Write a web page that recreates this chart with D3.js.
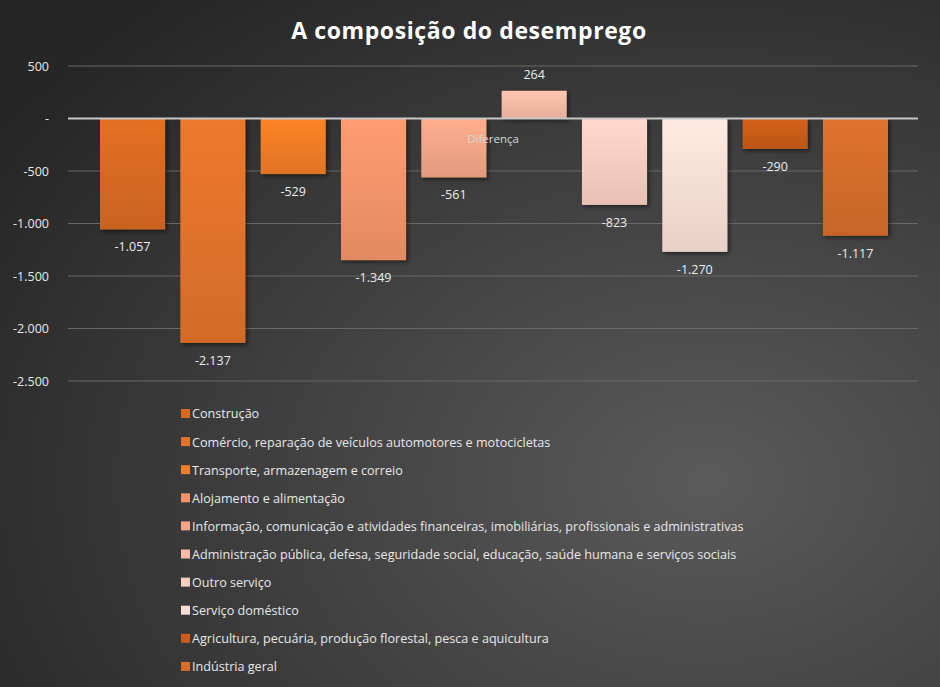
<!DOCTYPE html>
<html lang="pt">
<head>
<meta charset="utf-8">
<script src="https://d3js.org/d3.v7.min.js"></script>
<style>
  body { margin: 0; background: #333; }
  text { font-family: "Open Sans", sans-serif; }
</style>
</head>
<body>
<svg id="chart" width="940" height="687"></svg>
<script>
// data
var categories = ["Construção",
  "Comércio, reparação de veículos automotores e motocicletas",
  "Transporte, armazenagem e correio",
  "Alojamento e alimentação",
  "Informação, comunicação e atividades financeiras, imobiliárias, profissionais e administrativas",
  "Administração pública, defesa, seguridade social, educação, saúde humana e serviços sociais",
  "Outro serviço",
  "Serviço doméstico",
  "Agricultura, pecuária, produção florestal, pesca e aquicultura",
  "Indústria geral"];
var values = [-1057, -2137, -529, -1349, -561, 264, -823, -1270, -290, -1117];
var yTicks = [500, 0, -500, -1000, -1500, -2000, -2500];
var colors = ["#d86a22", "#e2732b", "#f07d27", "#f2946a", "#f4a587", "#f6bca6", "#f7cfc1", "#fadfd5", "#c95c19", "#d46c2b"];

var fmt = function(v){ return v === 0 ? "-" : d3.format(",")(v).replace(/,/g, ".").replace("\u2212", "-"); };

var svg = d3.select("#chart");
var defs = svg.append("defs");

var bg = defs.append("radialGradient").attr("id", "bg").attr("cx", "75%").attr("cy", "70%").attr("r", "90%");
bg.append("stop").attr("offset", "0%").attr("stop-color", "#5a5a5a");
bg.append("stop").attr("offset", "100%").attr("stop-color", "#262626");
svg.append("rect").attr("width", 940).attr("height", 687).attr("fill", "url(#bg)");

var sh = defs.append("filter").attr("id", "sh").attr("x", "-20%").attr("y", "-20%").attr("width", "150%").attr("height", "150%");
sh.append("feDropShadow").attr("dx", 2).attr("dy", 2).attr("stdDeviation", 2).attr("flood-color", "#000").attr("flood-opacity", 0.5);

colors.forEach(function(c, i){
  var g = defs.append("linearGradient").attr("id", "g" + i).attr("x1", 0).attr("y1", 0).attr("x2", 0).attr("y2", 1);
  g.append("stop").attr("offset", "0%").attr("stop-color", d3.color(c).brighter(0.15));
  g.append("stop").attr("offset", "100%").attr("stop-color", d3.color(c).darker(0.2));
});

svg.append("text").attr("x", 469).attr("y", 39).attr("text-anchor", "middle")
  .attr("fill", "#fff").attr("font-size", 23).attr("font-weight", "bold").attr("letter-spacing", 0.6)
  .text("A composição do desemprego");

var y = d3.scaleLinear().domain([-2500, 500]).range([381, 66]);
var x = d3.scaleBand().domain(d3.range(categories.length)).range([100, 888]).paddingInner(0.19).paddingOuter(0);

// grid
svg.append("g").selectAll("line").data(yTicks.filter(function(t){ return t !== 0; })).enter().append("line")
  .attr("x1", 68).attr("x2", 918).attr("y1", function(d){ return y(d); }).attr("y2", function(d){ return y(d); })
  .attr("stroke", "#686868").attr("stroke-width", 1);

var yAxis = svg.append("g").attr("transform", "translate(52,0)")
  .call(d3.axisLeft(y).tickValues(yTicks).tickSize(0).tickFormat(fmt));
yAxis.select(".domain").remove();
yAxis.selectAll("text").attr("fill", "#e8e8e8").attr("font-size", 12.5).attr("font-family", "'Open Sans', sans-serif");

// bars
svg.append("g").selectAll("rect").data(values).enter().append("rect")
  .attr("x", function(d, i){ return x(i); })
  .attr("y", function(d){ return y(Math.max(0, d)); })
  .attr("width", x.bandwidth())
  .attr("height", function(d){ return Math.abs(y(d) - y(0)); })
  .attr("fill", function(d, i){ return "url(#g" + i + ")"; })
  .attr("filter", "url(#sh)");

svg.append("line").attr("x1", 68).attr("x2", 918).attr("y1", y(0)).attr("y2", y(0))
  .attr("stroke", "#c8c8c8").attr("stroke-width", 2);

svg.append("g").selectAll("text").data(values).enter().append("text")
  .attr("x", function(d, i){ return x(i) + x.bandwidth() / 2; })
  .attr("y", function(d){ return d < 0 ? y(d) + 22 : y(d) - 12; })
  .attr("text-anchor", "middle").attr("fill", "#ececec").attr("font-size", 12.5)
  .text(fmt);

svg.append("text").attr("x", 493).attr("y", 143).attr("text-anchor", "middle")
  .attr("fill", "#d8d8d8").attr("font-size", 11.5).text("Diferença");

// legend
var leg = svg.append("g").selectAll("g").data(categories).enter().append("g")
  .attr("transform", function(d, i){ return "translate(181," + (414 + i * 28.1) + ")"; });
leg.append("rect").attr("x", 0).attr("y", -5).attr("width", 9).attr("height", 9)
  .attr("fill", function(d, i){ return colors[i]; });
leg.append("text").attr("x", 11).attr("y", 0).attr("dy", "0.35em")
  .attr("fill", "#e8e8e8").attr("font-size", 12.6).text(function(d){ return d; });
</script>
</body>
</html>
